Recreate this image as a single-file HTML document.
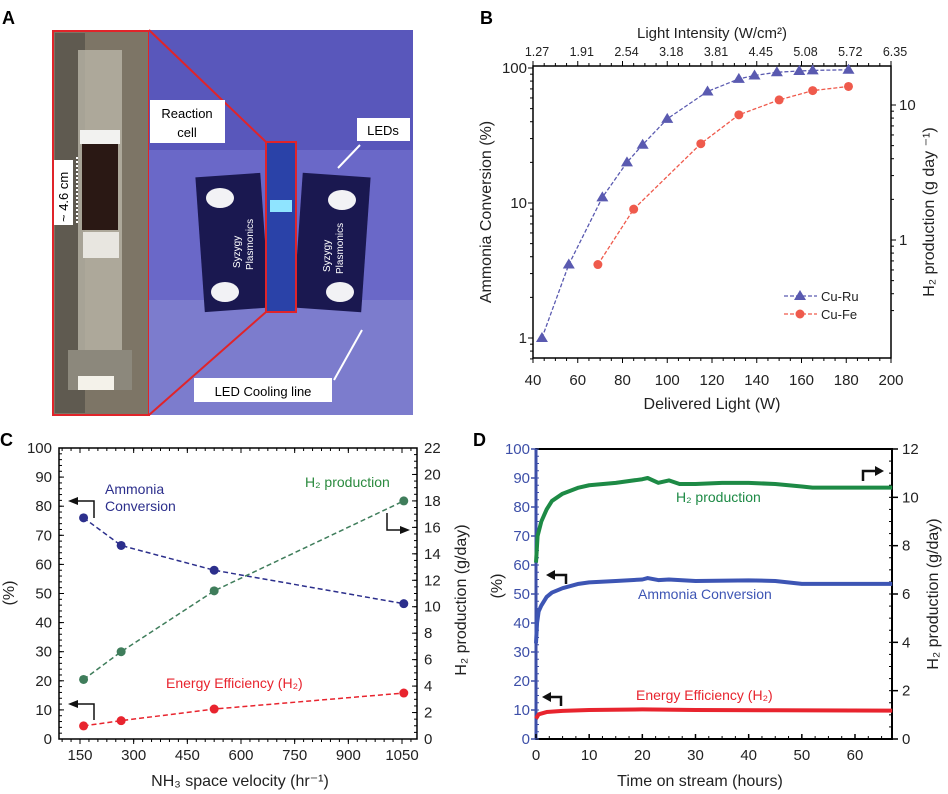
<!DOCTYPE html>
<html><head><meta charset="utf-8"><style>
html,body{margin:0;padding:0;background:#fff}
svg{display:block;font-family:"Liberation Sans",Arial,sans-serif}
</style></head><body>
<svg id="fig" width="948" height="794" viewBox="0 0 948 794">
<!-- Panel A photo approximation -->
<g>
  <text x="2" y="24" font-size="18" font-weight="bold">A</text>
  <rect x="53" y="31" width="96" height="384" fill="#7d7566"/>
  <rect x="55" y="33" width="30" height="380" fill="#5f5a50"/>
  <rect x="78" y="50" width="44" height="320" fill="#b9b5a8" opacity="0.8"/>
  <rect x="82" y="140" width="36" height="90" fill="#2a1814"/>
  <rect x="80" y="130" width="40" height="14" fill="#f2f2f0"/>
  <rect x="83" y="232" width="36" height="26" fill="#e8e6e0"/>
  <rect x="68" y="350" width="64" height="40" fill="#8c887c"/>
  <rect x="78" y="376" width="36" height="14" fill="#f4f2ea"/>
  <rect x="53" y="160" width="20" height="65" fill="#fff"/>
  <text transform="translate(68,222) rotate(-90)" font-size="13">~ 4.6 cm</text>
  <line x1="77" y1="157" x2="77" y2="225" stroke="#fff" stroke-width="2" stroke-dasharray="2,2"/>
  <rect x="53" y="31" width="96" height="384" fill="none" stroke="#e0242a" stroke-width="2"/>
  <rect x="149" y="30" width="264" height="385" fill="#6a68c8"/>
  <rect x="149" y="30" width="264" height="120" fill="#5553b8" opacity="0.8"/>
  <rect x="149" y="300" width="264" height="115" fill="#8584cf" opacity="0.7"/>
  <rect x="200" y="175" width="65" height="135" fill="#1a1850" transform="rotate(-4 232 242)"/>
  <rect x="298" y="175" width="68" height="135" fill="#1a1850" transform="rotate(4 332 242)"/>
  <rect x="266" y="142" width="30" height="170" fill="#2a42a8"/>
  <rect x="270" y="200" width="22" height="12" fill="#8fe4ff"/>
  <rect x="266" y="142" width="30" height="170" fill="none" stroke="#e0242a" stroke-width="2"/>
  <line x1="149" y1="30" x2="266" y2="142" stroke="#e0242a" stroke-width="2"/>
  <line x1="149" y1="415" x2="266" y2="312" stroke="#e0242a" stroke-width="2"/>
  <ellipse cx="220" cy="198" rx="14" ry="10" fill="#f2f2f5"/><ellipse cx="225" cy="292" rx="14" ry="10" fill="#f2f2f5"/>
  <ellipse cx="342" cy="200" rx="14" ry="10" fill="#f2f2f5"/><ellipse cx="340" cy="292" rx="14" ry="10" fill="#f2f2f5"/>
  <text transform="translate(240,268) rotate(-90)" font-size="10" fill="#fff">Syzygy</text>
  <text transform="translate(253,270) rotate(-90)" font-size="10" fill="#fff">Plasmonics</text>
  <text transform="translate(330,272) rotate(-90)" font-size="10" fill="#fff">Syzygy</text>
  <text transform="translate(343,274) rotate(-90)" font-size="10" fill="#fff">Plasmonics</text>
  <rect x="150" y="100" width="75" height="43" fill="#fff"/>
  <text x="187" y="118" font-size="13" text-anchor="middle">Reaction</text>
  <text x="187" y="137" font-size="13" text-anchor="middle">cell</text>
  <rect x="357" y="118" width="53" height="23" fill="#fff"/>
  <text x="383" y="135" font-size="13" text-anchor="middle">LEDs</text>
  <line x1="360" y1="145" x2="338" y2="168" stroke="#fff" stroke-width="2"/>
  <rect x="194" y="378" width="138" height="24" fill="#fff"/>
  <text x="263" y="396" font-size="13" text-anchor="middle">LED Cooling line</text>
  <line x1="334" y1="380" x2="362" y2="330" stroke="#fff" stroke-width="2"/>
</g>
<g id="B"></g><g id="C"></g><g id="D"></g>
</svg>
<script>
const NS="http://www.w3.org/2000/svg";
function mk(p,tag,at,txt){const e=document.createElementNS(NS,tag);for(const k in at)e.setAttribute(k,at[k]);if(txt!==undefined)e.textContent=txt;p.appendChild(e);return e;}

// ---------- Panel B data ----------
const bRuX=[44,56,71,82,89,100,118,132,139,149,159,165,181];
const bRuY=[1,3.5,11,20,27,42,67,83,88,93,95,96,97];
const bFeX=[69,85,115,132,150,165,181];
const bFeY=[3.5,9,27.5,45,58,68,73];
const bXTicks=[40,60,80,100,120,140,160,180,200];
const bTopLabels=["1.27","1.91","2.54","3.18","3.81","4.45","5.08","5.72","6.35"];
const bYTicks=[1,10,100];
const bRightTicks=[1,10];

// ---------- Panel C data ----------
const cX=[160,265,525,1055];
const cAmmonia=[76,66.5,58,46.5];
const cH2=[4.5,6.6,11.2,18];
const cEff=[4.5,6.3,10.3,15.8];
const cXTicks=[150,300,450,600,750,900,1050];
const cYTicks=[0,10,20,30,40,50,60,70,80,90,100];
const cRTicks=[0,2,4,6,8,10,12,14,16,18,20,22];

// ---------- Panel D data ----------
const dH2T=[0,0.3,1,2,3,5,8,10,15,20,21,23,25,27,30,35,40,45,50,52,55,60,67];
const dH2V=[7.3,8.4,9.0,9.5,9.85,10.15,10.4,10.5,10.6,10.75,10.8,10.6,10.7,10.55,10.55,10.6,10.6,10.55,10.45,10.4,10.4,10.4,10.4];
const dAmT=[0,0.2,0.5,1,2,3,5,8,10,15,20,21,23,25,30,40,45,50,60,67];
const dAmV=[33,40,44,46,49,50.5,52,53.5,54,54.5,55,55.5,54.8,55,54.5,54.7,54.5,53.5,53.5,53.5];
const dEfT=[0,0.5,2,5,10,20,30,45,67];
const dEfV=[7,8.5,9.3,9.7,10,10.2,10,9.9,9.8];
const dXTicks=[0,10,20,30,40,50,60];
const dYTicks=[0,10,20,30,40,50,60,70,80,90,100];
const dRTicks=[0,2,4,6,8,10,12];

// ===== Panel B =====
(function(){
const g=document.getElementById('B');
const L=533,R=891,T=66,Bt=358;
const X=v=>L+(v-40)*(R-L)/160;
const Y=v=>203-Math.log10(v/10)*135;
const YR=v=>105-Math.log10(v/10)*135;
let t=mk(g,'text',{x:480,y:24,'font-size':18,'font-weight':'bold'},'B');


const box=mk(g,'rect',{x:L,y:T,width:R-L,height:Bt-T,fill:'none',stroke:'#000','stroke-width':1.5});


bXTicks.forEach((v,i)=>{
  mk(g,'line',{x1:X(v),x2:X(v),y1:Bt,y2:Bt+5,stroke:'#000'});
  mk(g,'line',{x1:X(v),x2:X(v),y1:T,y2:T-5,stroke:'#000'});
  const l=mk(g,'text',{x:X(v),y:385,'font-size':15,'text-anchor':'middle',fill:'#222'},v);
  
  
  const tl=mk(g,'text',{x:X(v)+4,y:56,'font-size':12.5,'text-anchor':'middle',fill:'#222'},bTopLabels[i]);
  
  
  if(i<bXTicks.length-1) for(let k=1;k<4;k++){const xv=X(v+k*5);mk(g,'line',{x1:xv,x2:xv,y1:Bt,y2:Bt+3,stroke:'#000'});mk(g,'line',{x1:xv,x2:xv,y1:T,y2:T-3,stroke:'#000'});}
});
bYTicks.forEach(v=>{
  mk(g,'line',{x1:L-5,x2:L,y1:Y(v),y2:Y(v),stroke:'#000'});
  const l=mk(g,'text',{x:L-6,y:Y(v)+5,'font-size':15,'text-anchor':'end',fill:'#222'},v);
  
  
});
[0.7,0.8,0.9,2,3,4,5,6,7,8,9,20,30,40,50,60,70,80,90].forEach(v=>{mk(g,'line',{x1:L-3,x2:L,y1:Y(v),y2:Y(v),stroke:'#000'});});
bRightTicks.forEach(v=>{
  mk(g,'line',{x1:R,x2:R+5,y1:YR(v),y2:YR(v),stroke:'#000'});
  const l=mk(g,'text',{x:R+8,y:YR(v)+5,'font-size':15,fill:'#222'},v);
  
  
});
[0.3,0.4,0.5,0.6,0.7,0.8,0.9,2,3,4,5,6,7,8,9,20].forEach(v=>{const y=YR(v);if(y>T&&y<Bt)mk(g,'line',{x1:R,x2:R+3,y1:y,y2:y,stroke:'#000'});});
t=mk(g,'text',{x:712,y:409,'font-size':16,'text-anchor':'middle',fill:'#222'},'Delivered Light (W)');

t=mk(g,'text',{x:712,y:38,'font-size':15,'text-anchor':'middle',fill:'#222'},'Light Intensity (W/cm²)');

t=mk(g,'text',{transform:'translate(491,212) rotate(-90)','font-size':16,'text-anchor':'middle',fill:'#222'},'Ammonia Conversion (%)');

t=mk(g,'text',{transform:'translate(934,212) rotate(-90)','font-size':16,'text-anchor':'middle',fill:'#222'},'H₂ production (g day ⁻¹)');

const ru=mk(g,'polyline',{points:bRuX.map((x,i)=>X(x)+','+Y(bRuY[i])).join(' '),fill:'none',stroke:'#5a5ab0','stroke-width':1.3,'stroke-dasharray':'4,2'});

const fe=mk(g,'polyline',{points:bFeX.map((x,i)=>X(x)+','+Y(bFeY[i])).join(' '),fill:'none',stroke:'#ef5a4c','stroke-width':1.3,'stroke-dasharray':'4,2'});

bRuX.forEach((x,i)=>{const cx=X(x),cy=Y(bRuY[i]);
  const p=mk(g,'polygon',{points:`${cx},${cy-6} ${cx-6},${cy+4} ${cx+6},${cy+4}`,fill:'#5a5ab0'});
  });
bFeX.forEach((x,i)=>{const c=mk(g,'circle',{cx:X(x),cy:Y(bFeY[i]),r:4.5,fill:'#ef5a4c'});
  });
// legend
mk(g,'line',{x1:784,x2:817,y1:296,y2:296,stroke:'#5a5ab0','stroke-width':1.3,'stroke-dasharray':'4,2'});
mk(g,'polygon',{points:'800,290 794,300 806,300',fill:'#5a5ab0'});
t=mk(g,'text',{x:821,y:301,'font-size':13,fill:'#222'},'Cu-Ru');
mk(g,'line',{x1:784,x2:817,y1:314,y2:314,stroke:'#ef5a4c','stroke-width':1.3,'stroke-dasharray':'4,2'});
mk(g,'circle',{cx:800,cy:314,r:4.5,fill:'#ef5a4c'});
t=mk(g,'text',{x:821,y:319,'font-size':13,fill:'#222'},'Cu-Fe');
})();

// ===== Panel C =====
(function(){
const g=document.getElementById('C');
const L=59,R=417,T=448,Bt=739;
const X=v=>80+(v-150)*(402-80)/900;
const Y=v=>Bt-v*(Bt-T)/100;
const YR=v=>Bt-v*(Bt-T)/22;
let t=mk(g,'text',{x:0,y:446,'font-size':18,'font-weight':'bold'},'C');

const box=mk(g,'rect',{x:L,y:T,width:R-L,height:Bt-T,fill:'none',stroke:'#000','stroke-width':1.5});

cXTicks.forEach(v=>{
  mk(g,'line',{x1:X(v),x2:X(v),y1:Bt,y2:Bt+5,stroke:'#000'});mk(g,'line',{x1:X(v),x2:X(v),y1:T,y2:T+5,stroke:'#000'});
  const l=mk(g,'text',{x:X(v),y:760,'font-size':15,'text-anchor':'middle',fill:'#222'},v);
  
});
for(let v=100;v<=1075;v+=25){mk(g,'line',{x1:X(v),x2:X(v),y1:Bt,y2:Bt+3,stroke:'#000'});mk(g,'line',{x1:X(v),x2:X(v),y1:T,y2:T+3,stroke:'#000'});}
cYTicks.forEach(v=>{
  mk(g,'line',{x1:L,x2:L+5,y1:Y(v),y2:Y(v),stroke:'#000'});
  const l=mk(g,'text',{x:L-7,y:Y(v)+5,'font-size':15,'text-anchor':'end',fill:'#222'},v);
  
});
for(let v=0;v<=100;v+=2)mk(g,'line',{x1:L,x2:L+3,y1:Y(v),y2:Y(v),stroke:'#000'});
cRTicks.forEach(v=>{
  mk(g,'line',{x1:R-5,x2:R,y1:YR(v),y2:YR(v),stroke:'#000'});
  const l=mk(g,'text',{x:R+7,y:YR(v)+5,'font-size':15,fill:'#222'},v);
  
});
for(let v=0;v<=22;v+=0.5)mk(g,'line',{x1:R-3,x2:R,y1:YR(v),y2:YR(v),stroke:'#000'});
t=mk(g,'text',{x:240,y:786,'font-size':16,'text-anchor':'middle',fill:'#222'},'NH₃ space velocity (hr⁻¹)');

t=mk(g,'text',{transform:'translate(14,593) rotate(-90)','font-size':16,'text-anchor':'middle',fill:'#222'},'(%)');

t=mk(g,'text',{transform:'translate(466,600) rotate(-90)','font-size':16,'text-anchor':'middle',fill:'#222'},'H₂ production (g/day)');

function series(xs,ys,Yf,col,name){
  const l=mk(g,'polyline',{points:xs.map((x,i)=>X(x)+','+Yf(ys[i])).join(' '),fill:'none',stroke:col,'stroke-width':1.5,'stroke-dasharray':'5,3'});
  
  xs.forEach((x,i)=>{const c=mk(g,'circle',{cx:X(x),cy:Yf(ys[i]),r:4.5,fill:col});
    });
}
series(cX,cAmmonia,Y,'#2c2f8c','ammonia');
series(cX,cH2,YR,'#3f7d5b','h2');
series(cX,cEff,Y,'#e8242e','efficiency');
t=mk(g,'text',{x:105,y:494,'font-size':14,fill:'#2c2f8c'},'Ammonia');
mk(g,'text',{x:105,y:511,'font-size':14,fill:'#2c2f8c'},'Conversion');
t=mk(g,'text',{x:305,y:487,'font-size':14,fill:'#2a8a3e'},'H₂ production');
t=mk(g,'text',{x:166,y:688,'font-size':14,fill:'#e8242e'},'Energy Efficiency (H₂)');
const ar='#111';
mk(g,'polyline',{points:'94,518 94,501 74,501',fill:'none',stroke:ar,'stroke-width':1.5});mk(g,'polygon',{points:'68,501 78,497 78,505',fill:ar});
mk(g,'polyline',{points:'94,720 94,704 74,704',fill:'none',stroke:ar,'stroke-width':1.5});mk(g,'polygon',{points:'68,704 78,700 78,708',fill:ar});
mk(g,'polyline',{points:'387,513 387,530 404,530',fill:'none',stroke:ar,'stroke-width':1.5});mk(g,'polygon',{points:'410,530 400,526 400,534',fill:ar});
})();

// ===== Panel D =====
(function(){
const g=document.getElementById('D');
const L=536,R=892,T=449,Bt=739;
const X=v=>L+v*(855-L)/60;
const Y=v=>Bt-v*(Bt-T)/100;
const YR=v=>Bt-v*(Bt-T)/12;
const bl='#3d4fa8';
let t=mk(g,'text',{x:473,y:446,'font-size':18,'font-weight':'bold'},'D');

const box=mk(g,'rect',{x:L,y:T,width:R-L,height:Bt-T,fill:'none',stroke:'#000','stroke-width':2});

mk(g,'line',{x1:L,x2:L,y1:T,y2:Bt,stroke:bl,'stroke-width':3});
dXTicks.forEach(v=>{
  mk(g,'line',{x1:X(v),x2:X(v),y1:Bt,y2:Bt-5,stroke:'#000','stroke-width':1.5});
  const l=mk(g,'text',{x:X(v),y:760,'font-size':15,'text-anchor':'middle',fill:'#222'},v);
  
});
for(let v=0;v<=67;v+=2.5)mk(g,'line',{x1:X(v),x2:X(v),y1:Bt,y2:Bt-3,stroke:'#000'});
dYTicks.forEach(v=>{
  mk(g,'line',{x1:L-5,x2:L,y1:Y(v),y2:Y(v),stroke:bl,'stroke-width':1.5});
  const l=mk(g,'text',{x:L-6,y:Y(v)+5,'font-size':15,'text-anchor':'end',fill:bl},v);
  
});
for(let v=0;v<=100;v+=2.5)mk(g,'line',{x1:L,x2:L+3,y1:Y(v),y2:Y(v),stroke:bl});
dRTicks.forEach(v=>{
  mk(g,'line',{x1:R,x2:R+6,y1:YR(v),y2:YR(v),stroke:'#000','stroke-width':1.5});
  const l=mk(g,'text',{x:R+10,y:YR(v)+5,'font-size':15,fill:'#222'},v);
  
});
for(let v=0;v<=12;v+=0.5)mk(g,'line',{x1:R-3,x2:R,y1:YR(v),y2:YR(v),stroke:'#000'});
t=mk(g,'text',{x:700,y:786,'font-size':16,'text-anchor':'middle',fill:'#222'},'Time on stream (hours)');

t=mk(g,'text',{transform:'translate(502,586) rotate(-90)','font-size':16,'text-anchor':'middle',fill:'#222'},'(%)');

t=mk(g,'text',{transform:'translate(938,594) rotate(-90)','font-size':16,'text-anchor':'middle',fill:'#222'},'H₂ production (g/day)');

function ser(ts,vs,Yf,col,name){
  const l=mk(g,'polyline',{points:ts.map((x,i)=>X(x)+','+Yf(vs[i])).join(' '),fill:'none',stroke:col,'stroke-width':4,'stroke-linejoin':'round'});
  
}
ser(dH2T,dH2V,YR,'#1d8a45','h2');
ser(dAmT,dAmV,Y,'#3d55b4','ammonia');
ser(dEfT,dEfV,Y,'#e8242e','efficiency');
t=mk(g,'text',{x:676,y:502,'font-size':14,fill:'#1d8a45'},'H₂ production');
t=mk(g,'text',{x:638,y:599,'font-size':14,fill:'#3d55b4'},'Ammonia Conversion');
t=mk(g,'text',{x:636,y:700,'font-size':14,fill:'#e8242e'},'Energy Efficiency (H₂)');
const ar='#111';
mk(g,'polyline',{points:'566,584 566,575 553,575',fill:'none',stroke:ar,'stroke-width':2.5});mk(g,'polygon',{points:'546,575 555,570 555,580',fill:ar});
mk(g,'polyline',{points:'561,706 561,697 549,697',fill:'none',stroke:ar,'stroke-width':2.5});mk(g,'polygon',{points:'542,697 551,692 551,702',fill:ar});
mk(g,'polyline',{points:'863,481 863,471 877,471',fill:'none',stroke:ar,'stroke-width':2.5});mk(g,'polygon',{points:'884,471 875,466 875,476',fill:ar});
})();
</script>
</body></html>
